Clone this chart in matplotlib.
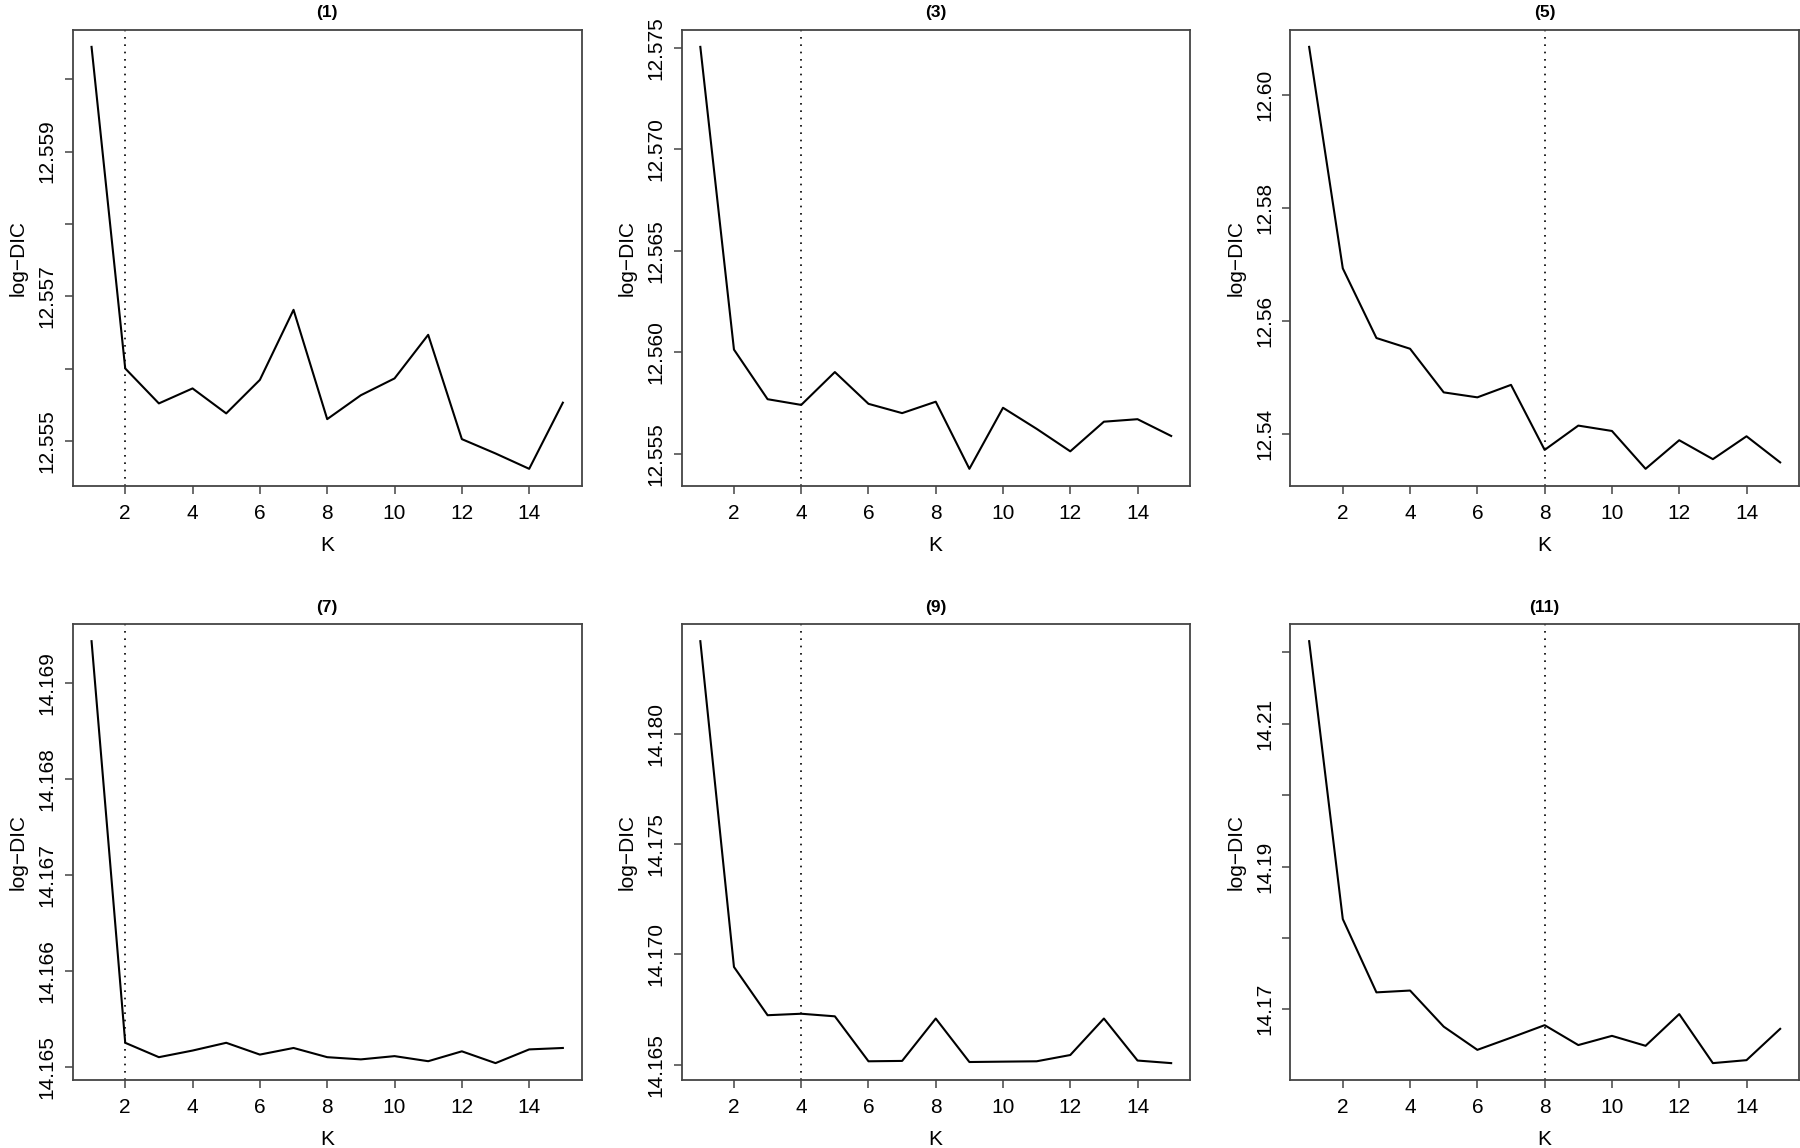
import matplotlib
matplotlib.use("Agg")
import matplotlib.pyplot as plt

plt.rcParams['font.family'] = ['Liberation Sans', 'DejaVu Sans']

K = list(range(1, 16))

# log-DIC values
dic1 = [12.560445, 12.556006, 12.555523, 12.55573, 12.555385, 12.555848, 12.556815, 12.555306,
        12.555636, 12.555868, 12.55647, 12.55503, 12.554832, 12.55462, 12.555533]
dic3 = [12.57505, 12.560136, 12.557691, 12.55741, 12.559028, 12.557463, 12.557005, 12.557568,
        12.554261, 12.557269, 12.556231, 12.555123, 12.556583, 12.556706, 12.55588]
dic5 = [12.60848, 12.56928, 12.55695, 12.55505, 12.54733, 12.54645, 12.54866, 12.53715,
        12.54145, 12.5405, 12.5338, 12.53886, 12.53551, 12.53956, 12.53494]
dic7 = [14.169438, 14.16525, 14.1651, 14.165169, 14.16525, 14.165127, 14.165196, 14.1651,
        14.165077, 14.165111, 14.165058, 14.165161, 14.165038, 14.165181, 14.165196]
dic9 = [14.18419, 14.169426, 14.167238, 14.167305, 14.167188, 14.16515, 14.165167, 14.167088,
        14.165117, 14.165134, 14.16515, 14.165434, 14.167088, 14.165184, 14.165067]
dic11 = [14.22156, 14.182645, 14.172374, 14.17263, 14.167574, 14.164323, 14.16603, 14.16778,
         14.164994, 14.166284, 14.16489, 14.16933, 14.162465, 14.16288, 14.167265]

titles = ["(1)", "(3)", "(5)", "(7)", "(9)", "(11)"]
series = [dic1, dic3, dic5, dic7, dic9, dic11]
chosen_k = [2, 4, 8, 2, 4, 8]

yticks = [
    [12.555, 12.556, 12.557, 12.558, 12.559, 12.560],
    [12.555, 12.560, 12.565, 12.570, 12.575],
    [12.54, 12.56, 12.58, 12.60],
    [14.165, 14.166, 14.167, 14.168, 14.169],
    [14.165, 14.170, 14.175, 14.180],
    [14.17, 14.18, 14.19, 14.20, 14.21, 14.22],
]
ylabels = [
    ["12.555", "", "12.557", "", "12.559", ""],
    ["12.555", "12.560", "12.565", "12.570", "12.575"],
    ["12.54", "12.56", "12.58", "12.60"],
    ["14.165", "14.166", "14.167", "14.168", "14.169"],
    ["14.165", "14.170", "14.175", "14.180"],
    ["14.17", "", "14.19", "", "14.21", ""],
]

W, H = 1800, 1148
fig = plt.figure(figsize=(W / 100, H / 100), dpi=100)

# panel boxes in pixels
lefts = [72.7, 681.5, 1290.3]
rights = [581.7, 1190, 1799]
tops = [30, 624.3]
box_h = 455.7

for i in range(6):
    r, c = divmod(i, 3)
    x0 = lefts[c] / W
    y0 = 1 - (tops[r] + box_h) / H
    ax = fig.add_axes([x0, y0, (rights[c] - lefts[c]) / W, box_h / H])

    y = series[i]
    ax.plot(K, y, color='black', lw=1.5)
    ax.axvline(chosen_k[i], color='black', lw=1.2, linestyle=(0, (1, 3.4)))

    # R-style 4% padding
    lo, hi = min(y), max(y)
    rng = hi - lo
    ax.set_ylim(lo - 0.04 * rng, hi + 0.04 * rng)
    ax.set_xlim(1 - 0.04 * 14, 15 + 0.04 * 14)

    ax.set_xticks([2, 4, 6, 8, 10, 12, 14])
    ax.set_yticks(yticks[i])
    ax.set_yticklabels(ylabels[i], rotation=90, va='center')

    ax.tick_params(axis='both', labelsize=15, length=5.5, width=1.1, color='#444444', direction='out')
    ax.tick_params(axis='y', pad=6)
    ax.tick_params(axis='x', pad=7.5)
    for s in ax.spines.values():
        s.set_color('#444444')
        s.set_linewidth(1.3)

    ax.set_xlabel("K", fontsize=15, labelpad=9.5)
    ax.set_ylabel("log\u2212DIC", fontsize=15, labelpad=7)
    ax.set_title(titles[i], fontsize=12.5, fontweight='bold', pad=9)

fig.savefig("out.png", dpi=100)
